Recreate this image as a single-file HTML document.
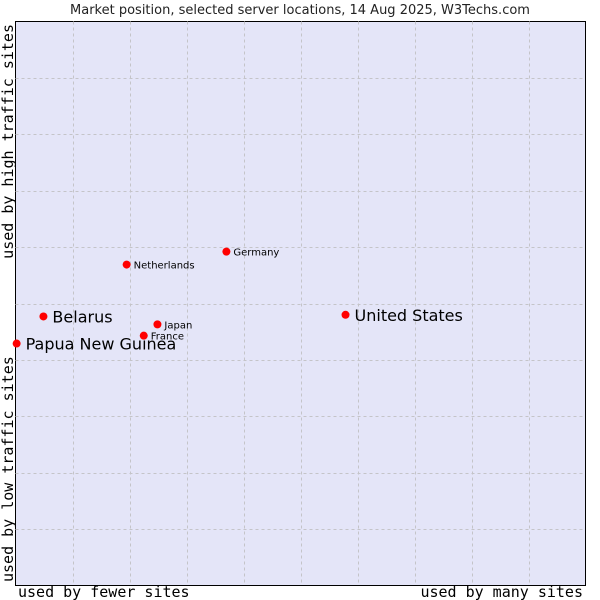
<!DOCTYPE html>
<html><head><meta charset="utf-8"><style>
html,body{margin:0;padding:0;background:#fff;}
svg{display:block;}
</style></head><body>
<svg id="chart" width="600" height="600" xmlns="http://www.w3.org/2000/svg">
<text x="300" y="14" text-anchor="middle" font-family="DejaVu Sans, sans-serif" font-size="13" fill="#222">Market position, selected server locations, 14 Aug 2025, W3Techs.com</text>
<rect x="15.5" y="21.5" width="570" height="564" fill="#e4e5f8" stroke="#000" stroke-width="1"/>
<g id="grid"></g>
<g id="points"></g>
<text x="18" y="597" font-family="DejaVu Sans Mono, monospace" font-size="15" fill="#000">used by fewer sites</text>
<text x="583" y="597" text-anchor="end" font-family="DejaVu Sans Mono, monospace" font-size="15" fill="#000">used by many sites</text>
<text transform="translate(13,582) rotate(-90)" font-family="DejaVu Sans Mono, monospace" font-size="15" fill="#000">used by low traffic sites</text>
<text transform="translate(13,24) rotate(-90)" text-anchor="end" font-family="DejaVu Sans Mono, monospace" font-size="15" fill="#000">used by high traffic sites</text>
</svg>
<script>
const names = ["United States","Belarus","Papua New Guinea","Netherlands","Germany","Japan","France"];
const xValues = [57.9,4.9,0.2,19.5,37.0,24.9,22.5];
const yValues = [48.0,47.7,42.9,56.9,59.2,46.3,44.3];
const big = [true,true,true,false,false,false,false];
const gridTicks = [1,2,3,4,5,6,7,8,9];

const X0=15.5,X1=585.5,Y0=585.5,Y1=21.5;
const xs = v => X0 + (X1-X0)*v/100;
const ys = v => Y0 - (Y0-Y1)*v/100;
const NS="http://www.w3.org/2000/svg";
const grid=document.getElementById('grid');
gridTicks.forEach(t=>{
  const v=document.createElementNS(NS,'line');
  v.setAttribute('x1',Math.round(xs(t*10))+0.5);v.setAttribute('x2',Math.round(xs(t*10))+0.5);
  v.setAttribute('y1',Y1);v.setAttribute('y2',Y0);
  v.setAttribute('stroke','#c4c4c8');v.setAttribute('stroke-dasharray','3,3');
  
  
  grid.appendChild(v);
  const h=document.createElementNS(NS,'line');
  h.setAttribute('y1',Math.round(ys(t*10))+0.5);h.setAttribute('y2',Math.round(ys(t*10))+0.5);
  h.setAttribute('x1',X0);h.setAttribute('x2',X1);
  h.setAttribute('stroke','#c4c4c8');h.setAttribute('stroke-dasharray','3,3');
  
  
  grid.appendChild(h);
});
const pts=document.getElementById('points');
names.forEach((n,i)=>{
  const cx=xs(xValues[i]), cy=ys(yValues[i]);
  const c=document.createElementNS(NS,'circle');
  c.setAttribute('cx',cx);c.setAttribute('cy',cy);c.setAttribute('r',4);
  c.setAttribute('fill','#ff0000');
  
  
  pts.appendChild(c);
  const t=document.createElementNS(NS,'text');
  t.setAttribute('x',cx+(big[i]?9:7));
  t.setAttribute('y',cy+(big[i]?6:4));
  t.setAttribute('font-family','DejaVu Sans, sans-serif');
  t.setAttribute('font-size',big[i]?16:10);
  t.setAttribute('fill','#000');
  t.textContent=n;
  
  
  pts.appendChild(t);
});
</script>
</body></html>
